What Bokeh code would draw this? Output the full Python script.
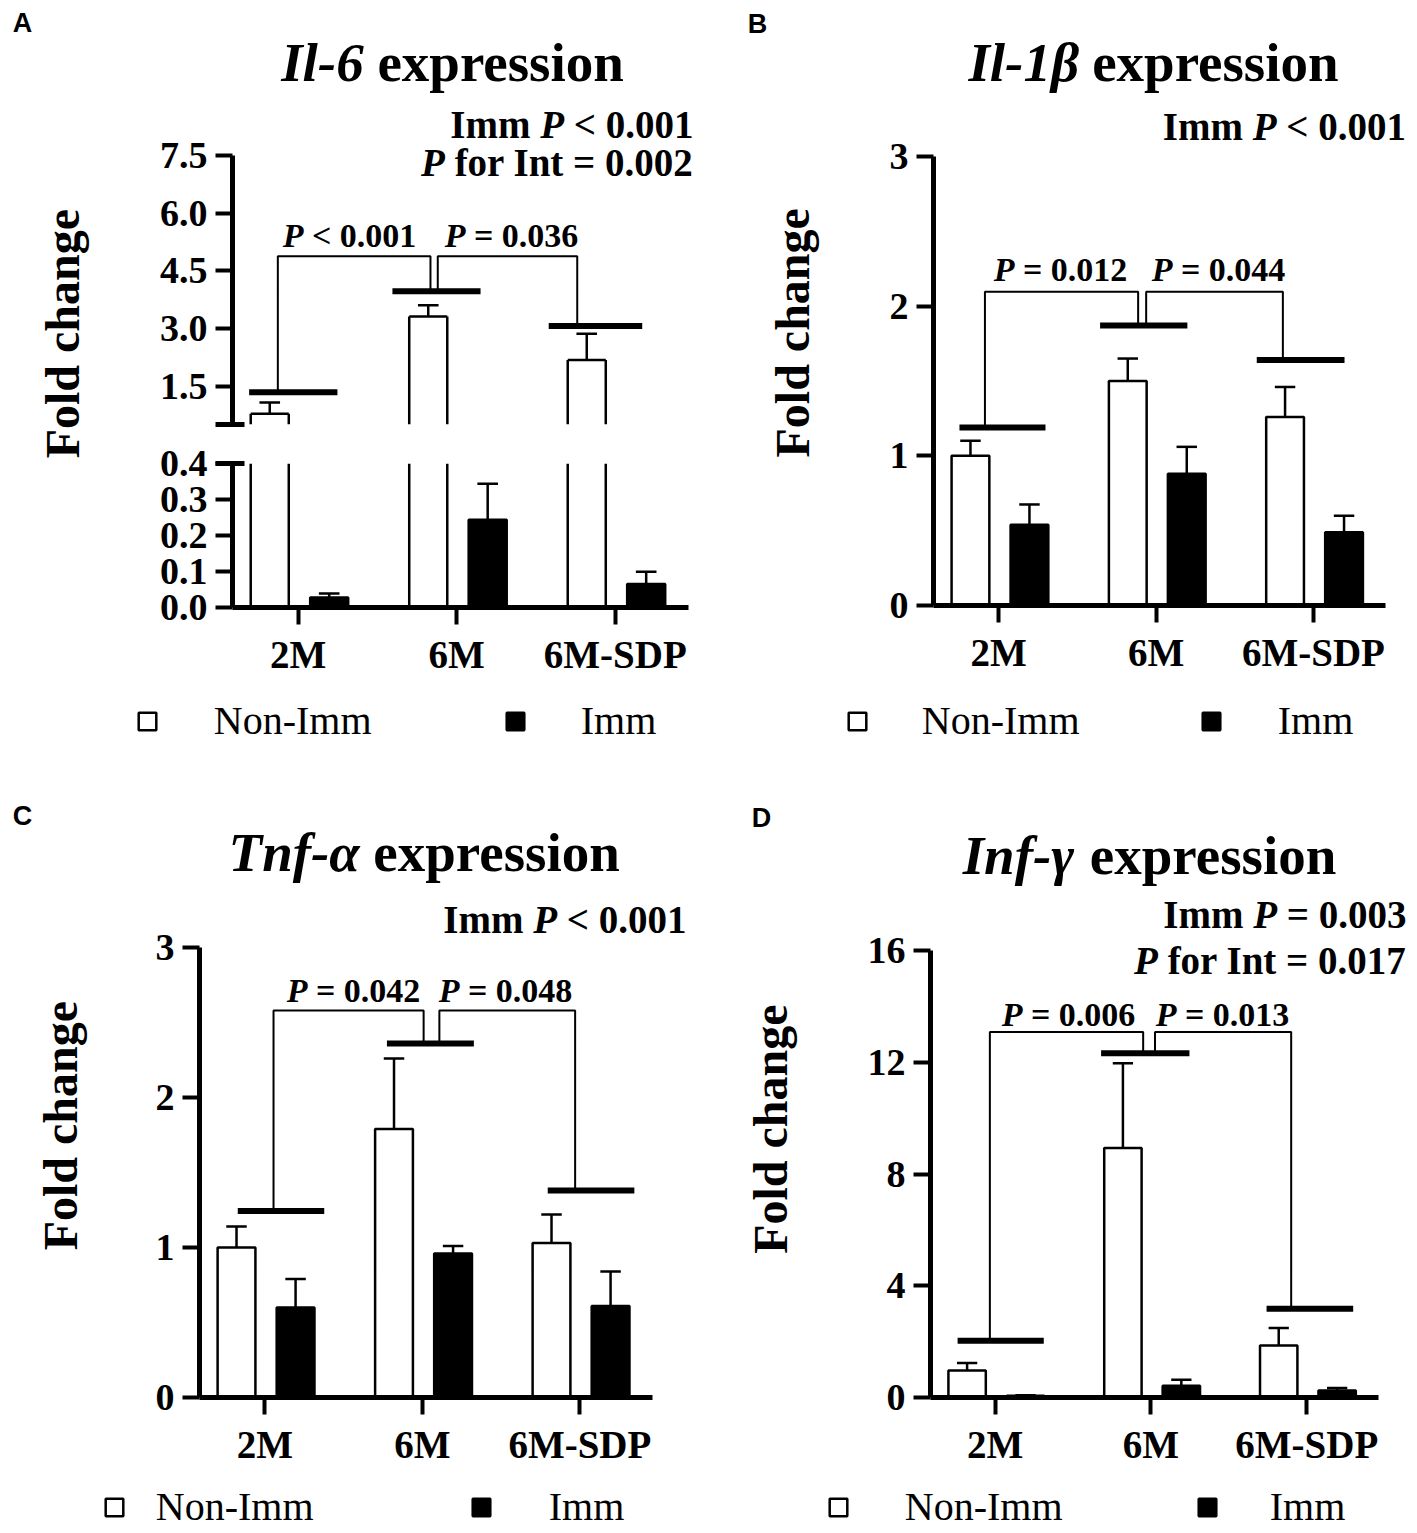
import math
from bokeh.plotting import figure
from bokeh.layouts import row, column
from bokeh.models import (ColumnDataSource, Range1d, FixedTicker, Label, Legend,
                          LegendItem, PrintfTickFormatter)
from bokeh.transform import dodge
from bokeh.embed import file_html
from bokeh.resources import INLINE

# ---------------------------------------------------------------- data
categories = ["2M", "6M", "6M-SDP"]
series_names = ["Non-Imm", "Imm"]

il6_non_imm = [0.78, 3.31, 2.18]
il6_non_imm_sem = [0.29, 0.29, 0.68]
il6_imm = [0.028, 0.244, 0.065]
il6_imm_sem = [0.011, 0.100, 0.034]
il6_axis_upper = (0.5, 7.5)     # upper segment of the broken axis
il6_axis_lower = (0.0, 0.4)     # lower segment of the broken axis

il1b_non_imm = [1.00, 1.50, 1.26]
il1b_non_imm_sem = [0.10, 0.15, 0.20]
il1b_imm = [0.54, 0.88, 0.49]
il1b_imm_sem = [0.135, 0.18, 0.11]

tnfa_non_imm = [1.00, 1.79, 1.03]
tnfa_non_imm_sem = [0.14, 0.47, 0.19]
tnfa_imm = [0.60, 0.96, 0.61]
tnfa_imm_sem = [0.19, 0.05, 0.23]

infg_non_imm = [0.97, 8.94, 1.86]
infg_non_imm_sem = [0.27, 3.03, 0.63]
infg_imm = [0.06, 0.42, 0.25]
infg_imm_sem = [0.02, 0.22, 0.09]

# significance annotations (group bars and brackets), in data units
il6_group_level = [1.34, 3.97, 3.06]
il6_group_x0 = [-0.31, 0.594, 1.58]
il6_group_x1 = [0.247, 1.150, 2.17]
il6_bracket_top = 4.88
il6_bracket_legs = [-0.129, 0.834, 0.880, 1.760]

il1b_group_level = [1.19, 1.87, 1.64]
il1b_group_x0 = [-0.250, 0.644, 1.640]
il1b_group_x1 = [0.297, 1.199, 2.198]
il1b_bracket_top = 2.096
il1b_bracket_legs = [-0.088, 0.886, 0.937, 1.806]

tnfa_group_level = [1.244, 2.36, 1.38]
tnfa_group_x0 = [-0.172, 0.775, 1.796]
tnfa_group_x1 = [0.377, 1.327, 2.346]
tnfa_bracket_top = 2.58
tnfa_bracket_legs = [0.055, 1.008, 1.108, 1.970]

infg_group_level = [2.03, 12.33, 3.18]
infg_group_x0 = [-0.241, 0.680, 1.742]
infg_group_x1 = [0.312, 1.247, 2.298]
infg_bracket_top = 13.09
infg_bracket_legs = [-0.034, 0.950, 1.026, 1.900]

il6_pair_p = ["< 0.001", "= 0.036"]
il1b_pair_p = ["= 0.012", "= 0.044"]
tnfa_pair_p = ["= 0.042", "= 0.048"]
infg_pair_p = ["= 0.006", "= 0.013"]

il6_stats = [[("Imm", "bold"), (" P", "bold italic"), (" < 0.001", "bold")],
             [("P", "bold italic"), (" for Int = 0.002", "bold")]]
il1b_stats = [[("Imm", "bold"), (" P", "bold italic"), (" < 0.001", "bold")]]
tnfa_stats = [[("Imm", "bold"), (" P", "bold italic"), (" < 0.001", "bold")]]
infg_stats = [[("Imm", "bold"), (" P", "bold italic"), (" = 0.003", "bold")],
              [("P", "bold italic"), (" for Int = 0.017", "bold")]]

titles = {
    "A": ("Il-6", " expression"),
    "B": ("Il-1\u03b2", " expression"),
    "C": ("Tnf-\u03b1", " expression"),
    "D": ("Inf-\u03b3", " expression"),
}

# ---------------------------------------------------------------- style
SERIF = "Liberation Serif"
SANS = "Liberation Sans"
X0, X1 = -0.415, 2.46
OFF_NON, OFF_IMM, BAR_W, CAP_HW = -0.18, 0.195, 0.24, 0.065
MID = 0.33   # distance from baseline to the 'middle' anchor, in em

W_B = {' ': .25, '.': .25, '<': .57, '=': .57, '-': .333, 'I': .389, 'm': .833,
       'f': .333, 'o': .5, 'r': .444, 'n': .556, 't': .333, 'e': .444, 'x': .5,
       'p': .556, 's': .389, 'i': .278, 'P': .611}
W_BI = {' ': .25, 'P': .611, 'I': .389, 'l': .278, '-': .333, 'T': .611, 'n': .556,
        'f': .333, '\u03b2': .5, '\u03b1': .55, '\u03b3': .45}


def text_w(s, style, size):
    tab = W_BI if "italic" in style else W_B
    return sum(tab.get(ch, 0.5) for ch in s) * size


class Geo:
    """Page geometry of one figure: canvas box and frame box, plus data anchors."""

    def __init__(self, ox, oy, w, h, fl=None, fr=None, ft=None, fb=None, xa=None, ya=None):
        self.ox, self.oy, self.w, self.h = ox, oy, w, h
        if xa is None:   # plain strip: frame == canvas, data == canvas pixels
            self.fl, self.fr, self.ft, self.fb = ox, ox + w, oy, oy + h
            self.xr, self.yr = (0, w), (0, h)
        else:
            self.fl, self.fr, self.ft, self.fb = fl, fr, ft, fb
            px0, v0, sx = xa
            py0, w0, sy = ya
            self.xr = (v0 + (fl - px0) / sx, v0 + (fr - px0) / sx)
            self.yr = (w0 + (py0 - fb) / sy, w0 + (py0 - ft) / sy)

    def d(self, px, py):
        x = self.xr[0] + (px - self.fl) / (self.fr - self.fl) * (self.xr[1] - self.xr[0])
        y = self.yr[0] + (self.fb - py) / (self.fb - self.ft) * (self.yr[1] - self.yr[0])
        return x, y


def base_fig(g, xaxis=True, yaxis=True):
    p = figure(width=g.w, height=g.h, x_range=Range1d(*g.xr), y_range=Range1d(*g.yr),
               output_backend="svg", toolbar_location=None, title=None,
               min_border_left=int(round(g.fl - g.ox)),
               min_border_right=int(round(g.ox + g.w - g.fr)),
               min_border_top=int(round(g.ft - g.oy)),
               min_border_bottom=int(round(g.oy + g.h - g.fb)),
               x_axis_location="below" if xaxis else None,
               y_axis_location="left" if yaxis else None)
    p.outline_line_color = None
    p.xgrid.visible = False
    p.ygrid.visible = False
    p.background_fill_color = "white"
    p.border_fill_color = "white"
    return p


def style_axis(ax, ticks, minor=(), fmt=None, size="38px", overrides=None, bounds=None):
    ax.ticker = FixedTicker(ticks=list(ticks), minor_ticks=list(minor))
    if fmt:
        ax.formatter = PrintfTickFormatter(format=fmt)
    if overrides:
        ax.major_label_overrides = overrides
    if bounds:
        ax.bounds = bounds
    ax.axis_line_width = 5
    ax.axis_line_color = "black"
    ax.major_tick_line_width = 4
    ax.major_tick_line_color = "black"
    ax.major_tick_out = 17
    ax.major_tick_in = 0
    ax.minor_tick_line_width = 5
    ax.minor_tick_line_color = "black"
    ax.minor_tick_out = 17
    ax.minor_tick_in = 12
    ax.major_label_text_font = SERIF
    ax.major_label_text_font_style = "bold"
    ax.major_label_text_font_size = size
    ax.major_label_text_color = "black"
    ax.major_label_standoff = 8


def style_xaxis(p):
    style_axis(p.xaxis[0], [0, 1, 2], size="39px", bounds=(X0, X1),
               overrides={i: c for i, c in enumerate(categories)})


def err_bars(p, src, off, lo, hi):
    p.segment(x0=dodge("x", off), x1=dodge("x", off), y0=lo, y1=hi, source=src,
              line_color="black", line_width=2.5)
    p.segment(x0=dodge("x", off - CAP_HW), x1=dodge("x", off + CAP_HW), y0=hi, y1=hi,
              source=src, line_color="black", line_width=2.5)


def bar_source(non, non_sem, imm, imm_sem):
    return ColumnDataSource(dict(
        x=list(range(len(categories))), non=non, imm=imm,
        non_top=[v + e for v, e in zip(non, non_sem)],
        imm_top=[v + e for v, e in zip(imm, imm_sem)]))


def draw_bars(p, non, non_sem, imm, imm_sem):
    src = bar_source(non, non_sem, imm, imm_sem)
    p.vbar(x=dodge("x", OFF_NON), top="non", bottom=0, width=BAR_W, source=src,
           fill_color="white", line_color="black", line_width=2.5)
    p.vbar(x=dodge("x", OFF_IMM), top="imm", bottom=0, width=BAR_W, source=src,
           fill_color="black", line_color="black", line_width=2.5)
    err_bars(p, src, OFF_NON, "non", "non_top")
    err_bars(p, src, OFF_IMM, "imm", "imm_top")


def open_white_bars(p, vals, seg_lo, seg_hi):
    """White bars cut by an axis break: sides within [seg_lo, seg_hi], top edge if visible."""
    idx = [i for i, v in enumerate(vals) if v > seg_lo]
    src = ColumnDataSource(dict(x=idx, lo=[seg_lo] * len(idx),
                                hi=[min(vals[i], seg_hi) for i in idx]))
    for s in (-BAR_W / 2, BAR_W / 2):
        p.segment(x0=dodge("x", OFF_NON + s), x1=dodge("x", OFF_NON + s), y0="lo", y1="hi",
                  source=src, line_color="black", line_width=2.5)
    tops = [i for i in idx if vals[i] <= seg_hi]
    if tops:
        tsrc = ColumnDataSource(dict(x=tops, y=[vals[i] for i in tops]))
        p.segment(x0=dodge("x", OFF_NON - BAR_W / 2), x1=dodge("x", OFF_NON + BAR_W / 2),
                  y0="y", y1="y", source=tsrc, line_color="black", line_width=2.5)


def draw_signif(p, level, gx0, gx1, top, legs):
    p.multi_line(xs=[[legs[0], legs[0], legs[1], legs[1]], [legs[2], legs[2], legs[3], legs[3]]],
                 ys=[[level[0], top, top, level[1]], [level[1], top, top, level[2]]],
                 line_color="black", line_width=2)
    p.segment(x0=gx0, x1=gx1, y0=level, y1=level, line_color="black", line_width=6)


def add_text(p, g, px, py, text, style, size, align="left", font=SERIF, angle=0.0):
    x, y = g.d(px, py)
    p.add_layout(Label(x=x, y=y, text=text, text_font=font, text_font_style=style,
                       text_font_size=f"{size}px", text_color="black", text_align=align,
                       text_baseline="middle", angle=angle))


def add_rich(p, g, parts, px, base, size, align="left"):
    total = sum(text_w(t, st, size) for t, st in parts)
    x = px if align == "left" else (px - total if align == "right" else px - total / 2)
    for t, st in parts:
        lead = len(t) - len(t.lstrip(" "))
        xs = x + text_w(" " * lead, st, size)
        add_text(p, g, xs, base - MID * size, t.strip(), st, size)
        x += text_w(t, st, size)


def add_title(p, g, key, cx, base):
    it, rest = titles[key]
    add_rich(p, g, [(it, "bold italic"), (rest, "bold")], cx, base, 55, align="center")


def add_pairs(p, g, pairs, centers, base):
    for pv, cx in zip(pairs, centers):
        add_rich(p, g, [("P", "bold italic"), (" " + pv, "bold")], cx, base, 34, align="center")


def add_stats(p, g, lines, right, bases):
    for parts, b in zip(lines, bases):
        add_rich(p, g, parts, right, b, 39, align="right")


def strip(g):
    s = figure(width=g.w, height=g.h, x_range=Range1d(*g.xr), y_range=Range1d(*g.yr),
               output_backend="svg", toolbar_location=None, title=None, min_border=0,
               x_axis_location=None, y_axis_location=None)
    s.outline_line_color = None
    s.xgrid.visible = False
    s.ygrid.visible = False
    s.background_fill_color = "white"
    s.border_fill_color = "white"
    return s


def side_strip(g, letter, lpos, ypos):
    s = strip(g)
    add_text(s, g, lpos[0], lpos[1], letter, "bold", 27, align="center", font=SANS)
    add_text(s, g, ypos[0], ypos[1], "Fold change", "bold", 48, align="center",
             angle=math.pi / 2)
    return s


def legend_strip(g, entries):
    s = strip(g)
    # legend proxies: same style as the bars, with no drawable point (NaN)
    proxy_src = ColumnDataSource(dict(x=[float("nan")], top=[float("nan")]))
    proxy = {
        series_names[0]: s.vbar(x="x", top="top", width=1, source=proxy_src, fill_color="white",
                                line_color="black", line_width=2.5),
        series_names[1]: s.vbar(x="x", top="top", width=1, source=proxy_src, fill_color="black",
                                line_color="black", line_width=2.5),
    }
    gw, hh = 22, 44
    for name, rect_left, text_left, cy in entries:
        box_left = rect_left - 0.1 * gw
        standoff = text_left - (box_left + gw)
        leg = Legend(items=[LegendItem(label=name, renderers=[proxy[name]])],
                     location=(box_left - g.ox, (g.oy + g.h) - (cy + hh / 2)),
                     orientation="horizontal", glyph_width=gw, glyph_height=gw,
                     label_standoff=int(round(standoff)), padding=0, margin=0, spacing=0,
                     border_line_color=None, background_fill_alpha=0,
                     label_text_font=SERIF, label_text_font_size="40px",
                     label_text_color="black")
        s.add_layout(leg, "center")
    return s


# ---------------------------------------------------------------- panel A (broken axis)
gA_up = Geo(120, 0, 591, 443, 232, 711, 0, 424, (232, X0, 158.5), (424, 0.5, 38.43))
gA_lo = Geo(120, 443, 591, 247, 232, 711, 463, 607, (232, X0, 158.5), (607, 0.0, 360.0))

pa_up = base_fig(gA_up, xaxis=False)
style_axis(pa_up.yaxis[0], [1.5, 3.0, 4.5, 6.0, 7.5], minor=[il6_axis_upper[0]], fmt="%.1f",
           bounds=il6_axis_upper)
src_a = bar_source(il6_non_imm, il6_non_imm_sem, il6_imm, il6_imm_sem)
open_white_bars(pa_up, il6_non_imm, il6_axis_upper[0], il6_axis_upper[1])
err_bars(pa_up, src_a, OFF_NON, "non", "non_top")
draw_signif(pa_up, il6_group_level, il6_group_x0, il6_group_x1, il6_bracket_top, il6_bracket_legs)
add_title(pa_up, gA_up, "A", 452.5, 80)
add_stats(pa_up, gA_up, il6_stats, 693, [137, 175])
add_pairs(pa_up, gA_up, il6_pair_p, [349, 511], 246)

pa_lo = base_fig(gA_lo)
style_axis(pa_lo.yaxis[0], [0.0, 0.1, 0.2, 0.3, 0.4], minor=[il6_axis_lower[1]], fmt="%.1f",
           bounds=il6_axis_lower)
style_xaxis(pa_lo)
open_white_bars(pa_lo, il6_non_imm, il6_axis_lower[0], il6_axis_lower[1])
pa_lo.vbar(x=dodge("x", OFF_IMM), top="imm", bottom=0, width=BAR_W, source=src_a,
           fill_color="black", line_color="black", line_width=2.5)
err_bars(pa_lo, src_a, OFF_IMM, "imm", "imm_top")

lA = side_strip(Geo(0, 0, 120, 690), "A", (22, 26), (61.7, 380))

# ---------------------------------------------------------------- panel B
gB = Geo(840, 0, 575, 690, 933, 1415, 0, 605, (933, X0, 157.3), (605, 0.0, 149.67))
pb = base_fig(gB)
style_axis(pb.yaxis[0], [0, 1, 2, 3], bounds=(0, 3))
style_xaxis(pb)
draw_bars(pb, il1b_non_imm, il1b_non_imm_sem, il1b_imm, il1b_imm_sem)
draw_signif(pb, il1b_group_level, il1b_group_x0, il1b_group_x1, il1b_bracket_top, il1b_bracket_legs)
add_title(pb, gB, "B", 1153.5, 80)
add_stats(pb, gB, il1b_stats, 1405.5, [139])
add_pairs(pb, gB, il1b_pair_p, [1060, 1218], 280)
lB = side_strip(Geo(711, 0, 129, 690), "B", (757, 27), (792, 379))

# ---------------------------------------------------------------- panel C
gC = Geo(120, 790, 591, 690, 199, 711, 790, 1397, (199, X0, 157.5), (1397, 0.0, 150.0))
pc = base_fig(gC)
style_axis(pc.yaxis[0], [0, 1, 2, 3], bounds=(0, 3))
style_xaxis(pc)
draw_bars(pc, tnfa_non_imm, tnfa_non_imm_sem, tnfa_imm, tnfa_imm_sem)
draw_signif(pc, tnfa_group_level, tnfa_group_x0, tnfa_group_x1, tnfa_bracket_top, tnfa_bracket_legs)
add_title(pc, gC, "C", 424.2, 870)
add_stats(pc, gC, tnfa_stats, 686, [932])
add_pairs(pc, gC, tnfa_pair_p, [353, 505], 1001)
lC = side_strip(Geo(0, 790, 120, 690), "C", (22, 819), (60, 1171))

# ---------------------------------------------------------------- panel D
gD = Geo(840, 790, 575, 690, 930, 1415, 790, 1400, (930, X0, 155.8), (1400, 0.0, 28.06))
pd_ = base_fig(gD)
style_axis(pd_.yaxis[0], [0, 4, 8, 12, 16], bounds=(0, 16))
style_xaxis(pd_)
draw_bars(pd_, infg_non_imm, infg_non_imm_sem, infg_imm, infg_imm_sem)
draw_signif(pd_, infg_group_level, infg_group_x0, infg_group_x1, infg_bracket_top, infg_bracket_legs)
add_title(pd_, gD, "D", 1149.5, 873)
add_stats(pd_, gD, infg_stats, 1406, [927, 974])
add_pairs(pd_, gD, infg_pair_p, [1068, 1222], 1026)
lD = side_strip(Geo(711, 790, 129, 690), "D", (761, 821), (770, 1175))

# ---------------------------------------------------------------- legends
leg_top = legend_strip(Geo(0, 690, 1415, 100), [
    (series_names[0], 138, 213.8, 722), (series_names[1], 506, 580.8, 722),
    (series_names[0], 848, 921.8, 722), (series_names[1], 1202, 1277.8, 722)])
leg_bot = legend_strip(Geo(0, 1480, 1415, 51), [
    (series_names[0], 105, 156, 1508), (series_names[1], 472, 548.6, 1508),
    (series_names[0], 829, 904.4, 1508), (series_names[1], 1198, 1270, 1508)])

layout = column(
    row(lA, column(pa_up, pa_lo), lB, pb),
    leg_top,
    row(lC, pc, lD, pd_),
    leg_bot,
)

with open("out.html", "w") as f:
    f.write(file_html(layout, INLINE, title="Cytokine expression"))
